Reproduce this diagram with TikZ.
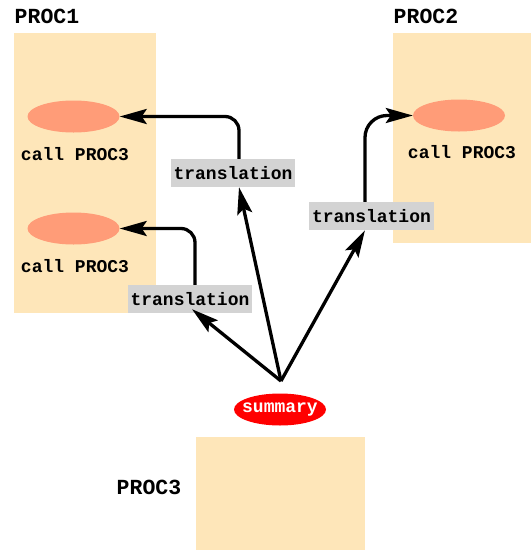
\documentclass[tikz,border=0pt]{standalone}
\usepackage{fontspec}
\setmonofont{Liberation Mono}
\usetikzlibrary{shapes.geometric,arrows.meta}

\definecolor{procfill}{HTML}{FEE6B9}
\definecolor{callfill}{HTML}{FF9C78}
\definecolor{transfill}{HTML}{D3D3D3}

\tikzset{
    link/.style={line width=3.3pt,arrows={-Stealth[length=27pt,width=15pt,inset=5pt]}}
}

\begin{document}
\begin{tikzpicture}[x=1pt,y=-1pt,
    every node/.style={font=\ttfamily\bfseries\fontsize{18}{20}\selectfont},
    proclabel/.style={font=\ttfamily\bfseries\fontsize{21.5}{24}\selectfont},
    procbox/.style={fill=procfill,inner sep=0pt},
    callnode/.style={ellipse,fill=callfill,minimum width=92pt,minimum height=32pt,inner sep=0pt},
    transnode/.style={fill=transfill,inner xsep=3pt,inner ysep=0pt,minimum height=28pt}]
    \useasboundingbox (0,0) rectangle (531,550);

    % procedure boxes
    \node[procbox,minimum width=142pt,minimum height=280pt] (box1) at (85,173) {};
    \node[procbox,minimum width=138pt,minimum height=210pt] (box2) at (462,138) {};
    \node[procbox,minimum width=169pt,minimum height=113pt] (box3) at (280.5,493.5) {};

    \node[proclabel] (lab1) at (47,16) {PROC1};
    \node[proclabel] (lab2) at (426,16) {PROC2};
    \node[proclabel] (lab3) at (149,487) {PROC3};

    % call sites
    \node[callnode] (call1) at (73.5,116.5) {};
    \node (txt1) at (75,154) {call PROC3};
    \node[callnode] (call2) at (73.5,228.5) {};
    \node (txt2) at (75,266) {call PROC3};
    \node[callnode] (call3) at (459,115.5) {};
    \node (txt3) at (462,152) {call PROC3};

    % translations
    \node[transnode] (tr1) at (233,173) {translation};
    \node[transnode] (tr2) at (190,299) {translation};
    \node[transnode] (tr3) at (371.5,216) {translation};

    \node[ellipse,fill=red,text=white,minimum width=92pt,minimum height=32pt,
        inner xsep=-5.5pt,inner ysep=0pt] (sum) at (280,409.5) {summary};
    \coordinate (fork) at (281,381);

    \draw [link] (fork) -- ([xshift=6pt]tr1.south);
    \draw [link] (fork) -- ([xshift=2pt,yshift=4pt]tr2.south);
    \draw [link] (fork) -- ([xshift=-6.5pt]tr3.south);

    \draw [link,rounded corners=14pt] ([xshift=6pt]tr1.north) |- (call1.east);
    \draw [link,rounded corners=14pt] ([xshift=5pt]tr2.north) |- (call2.east);
    \draw [link,rounded corners=22pt] ([xshift=-6.5pt]tr3.north) |- (call3.west);
\end{tikzpicture}
\end{document}
